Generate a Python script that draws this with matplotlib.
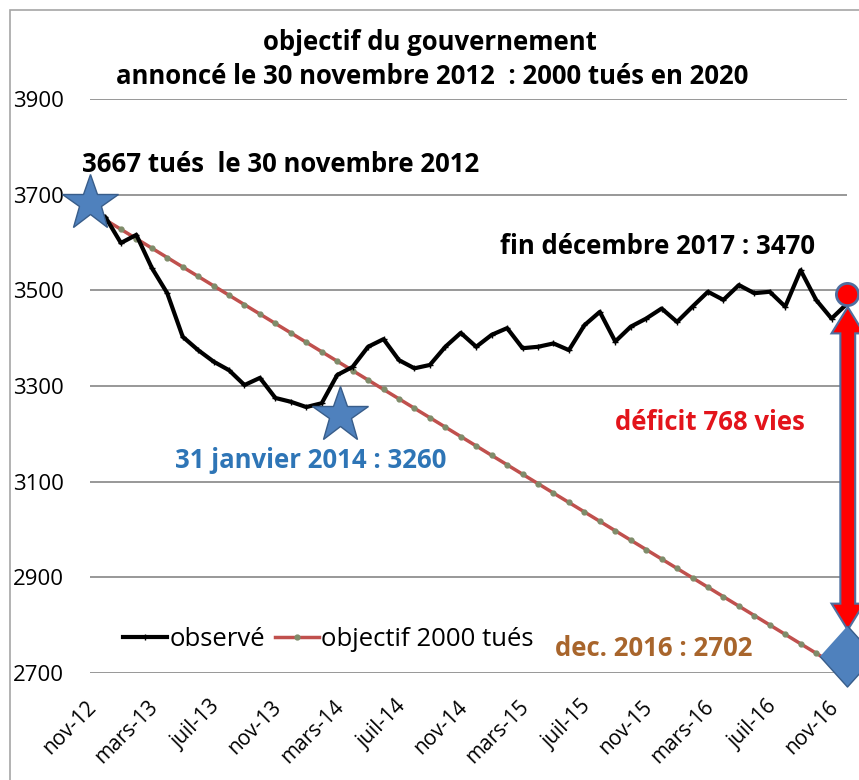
import numpy as np
import matplotlib
matplotlib.use("Agg")
import matplotlib.pyplot as plt
import matplotlib.transforms as mtransforms
from matplotlib.patches import Polygon, Rectangle

plt.rcParams['font.family'] = ['Open Sans', 'DejaVu Sans']

# données : mois depuis nov-12
observe = [3667, 3653, 3599, 3616, 3547, 3494, 3403, 3375, 3351, 3333,
           3302, 3317, 3275, 3267, 3256, 3264, 3323, 3340, 3382, 3398,
           3354, 3337, 3344, 3382, 3411, 3382, 3407, 3421, 3379, 3382,
           3389, 3375, 3427, 3455, 3393, 3424, 3441, 3462, 3434, 3466,
           3497, 3480, 3511, 3494, 3497, 3466, 3542, 3480, 3441, 3472]
objectif_debut = 3667
objectif_fin = 2702
mois = np.arange(len(observe))
objectif = np.linspace(objectif_debut, objectif_fin, len(observe))

tick_mois = list(range(0, 49, 4))
tick_labels = ['nov-12', 'mars-13', 'juil-13', 'nov-13', 'mars-14', 'juil-14',
               'nov-14', 'mars-15', 'juil-15', 'nov-15', 'mars-16', 'juil-16', 'nov-16']

etoiles_x = [0, 16.2]
etoiles_y = [3683, 3240]
losange_x, losange_y = 49, 2735
point_final_x, point_final_y = 49, 3492

fig = plt.figure(figsize=(8.59, 7.80), dpi=100)
ax = fig.add_axes([90 / 859, 1 - 673 / 780, (847 - 90) / 859, (673 - 99) / 780])

# cadre du graphique
fig.patches.append(Rectangle((10 / 859, -0.1), 1.2, 1 - 10 / 780 + 0.1,
                             transform=fig.transFigure, fill=False,
                             edgecolor='#a6a6a6', lw=1.2))

ax.plot(mois, objectif, color='#c0504d', lw=2.5, marker='o', ms=3.5,
        mfc='#7f8c6a', mec='#7f8c6a', label='objectif 2000 tués', zorder=3)
ax.plot(mois, observe, color='black', lw=3, marker='+', ms=4,
        label='observé', zorder=4)

ax.plot(etoiles_x, etoiles_y, ls='none', marker='*', ms=42, mfc='#4f81bd',
        mec='#385d8a', mew=1, zorder=5, clip_on=False)

# double flèche du déficit
xa, haut, bas = 49.05, 3465, 2790
sw, hw, hl = 0.48, 1.05, 55
fleche = [(xa - sw, haut - hl), (xa - hw, haut - hl), (xa, haut), (xa + hw, haut - hl),
          (xa + sw, haut - hl), (xa + sw, bas + hl), (xa + hw, bas + hl), (xa, bas),
          (xa - hw, bas + hl), (xa - sw, bas + hl)]
ax.add_patch(Polygon(fleche, closed=True, facecolor='#ff0000', edgecolor='#4f6fa0',
                     lw=1.5, zorder=6, clip_on=False))

losange = [(0, 1), (0.9, 0), (0, -1), (-0.9, 0)]
ax.plot([losange_x], [losange_y], ls='none', marker=losange, ms=44, mfc='#4f81bd',
        mec='#385d8a', mew=1, zorder=7, clip_on=False)
ax.plot([point_final_x], [point_final_y], ls='none', marker='o', ms=16, mfc='#ff0000',
        mec='#4f6fa0', mew=2, zorder=7, clip_on=False)

ax.set_xlim(0, 49)
ax.set_ylim(2700, 3900)
ax.set_yticks(range(2700, 4000, 200))
ax.tick_params(axis='y', length=0, pad=19, labelsize=16)
ax.set_xticks(tick_mois)
ax.set_xticklabels(tick_labels, rotation=45, ha='right', rotation_mode='anchor', fontsize=15)
ax.tick_params(axis='x', length=0, pad=17)
decalage = mtransforms.ScaledTranslation(-3 / 72, 0, fig.dpi_scale_trans)
for lab in ax.get_xticklabels():
    lab.set_transform(lab.get_transform() + decalage)
ax.grid(axis='y', color='#868686', lw=1.2)
ax.set_axisbelow(True)
for s in ax.spines.values():
    s.set_visible(False)

fs = 18.5
fig.text(0.5006, 1 - 42 / 780, 'objectif du gouvernement', ha='center', va='center',
         fontsize=fs, fontweight='bold')
fig.text(0.503, 1 - 77 / 780, 'annoncé le 30 novembre 2012  : 2000 tués en 2020',
         ha='center', va='center', fontsize=fs, fontweight='bold')
fig.text(82 / 859, 1 - 165 / 780, '3667 tués  le 30 novembre 2012', ha='left', va='center',
         fontsize=fs, fontweight='bold')
fig.text(500 / 859, 1 - 246 / 780, 'fin décembre 2017 : 3470', ha='left', va='center',
         fontsize=fs, fontweight='bold')
fig.text(175 / 859, 1 - 460 / 780, '31 janvier 2014 : 3260', ha='left', va='center',
         fontsize=fs, fontweight='bold', color='#2e75b6')
fig.text(615 / 859, 1 - 422 / 780, 'déficit 768 vies', ha='left', va='center',
         fontsize=fs, fontweight='bold', color='#e3141b')
fig.text(555 / 859, 1 - 648 / 780, 'dec. 2016 : 2702', ha='left', va='center',
         fontsize=fs, fontweight='bold', color='#a8652c')

h, l = ax.get_legend_handles_labels()
fig.legend(h[::-1], l[::-1], loc='center left', bbox_to_anchor=(105 / 859, 1 - 639 / 780),
           ncol=2, frameon=False, fontsize=18.5, handlelength=1.7, handletextpad=0.1,
           columnspacing=0.4, borderpad=0.2)

fig.savefig('out.png', dpi=100)
